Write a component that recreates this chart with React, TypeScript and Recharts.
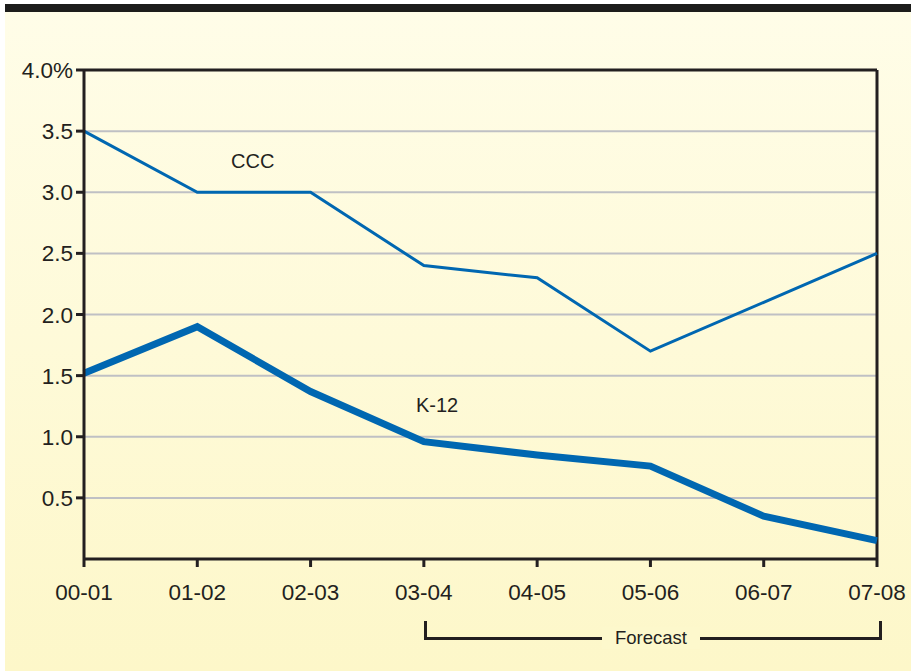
import { LineChart, Line, XAxis, YAxis, CartesianGrid, ReferenceLine } from 'recharts';

const years = ['00-01', '01-02', '02-03', '03-04', '04-05', '05-06', '06-07', '07-08'];
const ccc = [3.5, 3.0, 3.0, 2.4, 2.3, 1.7, 2.1, 2.5];
const k12 = [1.52, 1.9, 1.37, 0.96, 0.85, 0.76, 0.35, 0.15];
const yTicks = [0.5, 1, 1.5, 2, 2.5, 3, 3.5, 4];

const data = years.map((year, i) => ({ year, ccc: ccc[i], k12: k12[i] }));

const FONT = '"Liberation Sans", Arial, sans-serif';
const BLUE = '#0067b1';
const INK = '#231f20';

const fmtY = (v: number) => (v === 4 ? '4.0%' : v.toFixed(1));

const XTick = ({ x, y, payload }: any) => (
  <text x={x} y={y + 31} textAnchor="middle" fill={INK} fontSize={22.5} fontFamily={FONT}>
    {payload.value}
  </text>
);

const YTick = ({ x, y, payload }: any) => (
  <text x={x - 1} y={y + 8} textAnchor="end" fill={INK} fontSize={22.5} fontFamily={FONT}>
    {fmtY(payload.value)}
  </text>
);

const App = () => (
  <div style={{ position: 'absolute', left: 0, top: 0, width: 911, height: 671, background: '#fff', fontFamily: FONT }}>
    <div style={{ position: 'absolute', left: 5, top: 4, right: 0, height: 8, background: '#1d1d1b' }} />
    <div
      style={{
        position: 'absolute', left: 5, top: 12, right: 0, bottom: 0,
        background: 'linear-gradient(#fffde8, #fdf7c9)',
      }}
    />
    <div style={{ position: 'absolute', left: 0, top: 0 }}>
      <LineChart width={911} height={671} data={data} margin={{ top: 70, right: 34, left: 24, bottom: 72 }}>
        <CartesianGrid vertical={false} stroke="#bfc0c4" strokeWidth={2} />
        <XAxis
          dataKey="year"
          height={40}
          axisLine={{ stroke: INK, strokeWidth: 3 }}
          tickLine={{ stroke: INK, strokeWidth: 3 }}
          tickSize={8}
          tick={<XTick />}
          interval={0}
        />
        <YAxis
          width={60}
          domain={[0, 4]}
          ticks={yTicks}
          axisLine={{ stroke: INK, strokeWidth: 3 }}
          tickLine={{ stroke: INK, strokeWidth: 3 }}
          tickSize={8}
          tick={<YTick />}
        />
        <ReferenceLine y={4} stroke={INK} strokeWidth={3} />
        <ReferenceLine x="07-08" stroke={INK} strokeWidth={3} />
        <Line dataKey="ccc" stroke={BLUE} strokeWidth={3} dot={false} isAnimationActive={false} strokeLinejoin="miter" />
        <Line dataKey="k12" stroke={BLUE} strokeWidth={7} dot={false} isAnimationActive={false} strokeLinejoin="miter" />
      </LineChart>
    </div>
    <div style={{ position: 'absolute', left: 231, top: 150, fontSize: 20, color: INK }}>CCC</div>
    <div style={{ position: 'absolute', left: 416, top: 394, fontSize: 20, color: INK }}>K-12</div>
    <div
      style={{
        position: 'absolute', left: 424, top: 621, width: 452, height: 16,
        borderLeft: `3px solid ${INK}`, borderRight: `3px solid ${INK}`, borderBottom: `3px solid ${INK}`,
      }}
    />
    <div
      style={{
        position: 'absolute', left: 602, top: 627, width: 98, textAlign: 'center',
        fontSize: 18.5, color: INK, background: '#fdf8cc',
      }}
    >
      Forecast
    </div>
  </div>
);

export default App;
